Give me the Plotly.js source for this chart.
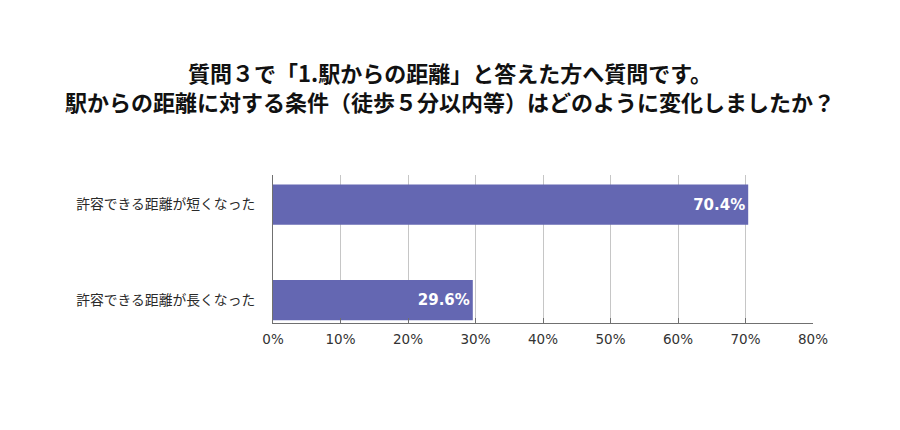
<!DOCTYPE html>
<html>
<head>
<meta charset="utf-8">
<script src="https://cdn.plot.ly/plotly-3.0.1.min.js"></script>
<style>
  html, body { margin: 0; padding: 0; background: #fff; }
  #chart { width: 900px; height: 430px; }
</style>
</head>
<body>
<div id="chart"></div>
<script>
// Answers and their share (%), top to bottom
const categories = ["許容できる距離が短くなった", "許容できる距離が長くなった"];
const shares = [70.4, 29.6];
const xTicks = [0, 10, 20, 30, 40, 50, 60, 70, 80];
const titleLines = [
  "質問３で「1.駅からの距離」と答えた方へ質問です。",
  "駅からの距離に対する条件（徒歩５分以内等）はどのように変化しましたか？",
];

const FONT = "'Noto Sans CJK JP', 'Noto Sans', sans-serif";
const NUM_FONT = "'DejaVu Sans', sans-serif";
const BAR_COLOR = "#6467b2";
const GRID_COLOR = "#c6c6c6";
const AXIS_COLOR = "#707070";

// two title lines as separate annotations, so the line gap matches
const titleAnnotations = titleLines.map((t, i) => ({
  text: t,
  xref: "paper", yref: "paper",
  x: (450 - 273) / 540, xanchor: "center",
  y: 1 + (175 - (71.5 + i * 29.5)) / 148, yanchor: "middle",
  showarrow: false,
  borderpad: 0,
  font: { family: FONT, size: 22, color: "#111111", weight: "bold" },
}));

Plotly.newPlot(
  "chart",
  [
    {
      type: "bar", orientation: "h",
      x: shares, y: categories,
      width: 0.42,
      marker: { color: BAR_COLOR },
      text: shares.map((v) => v.toFixed(1) + "%"),
      textposition: "inside",
      insidetextanchor: "end",
      textfont: { family: NUM_FONT, size: 15, color: "#ffffff", weight: "bold" },
      hoverinfo: "none",
    },
  ],
  {
    width: 900, height: 430,
    paper_bgcolor: "#ffffff",
    plot_bgcolor: "#ffffff",
    font: { family: FONT, size: 13, color: "#333333" },
    margin: { t: 175, r: 87, b: 107, l: 273 },
    showlegend: false,
    annotations: titleAnnotations,
    xaxis: {
      range: [0, 80],
      tickvals: xTicks,
      ticktext: xTicks.map((v) => v + "%"),
      showgrid: true,
      gridcolor: GRID_COLOR,
      gridwidth: 1,
      zeroline: false,
      showline: true,
      linecolor: AXIS_COLOR,
      linewidth: 1,
      ticks: "inside",
      ticklen: 5,
      tickcolor: AXIS_COLOR,
      ticklabelstandoff: 4,
      tickfont: { family: NUM_FONT, size: 13.5, color: "#333333" },
      fixedrange: true,
    },
    yaxis: {
      type: "category",
      categoryorder: "array",
      categoryarray: categories,
      range: [1.24, -0.31],
      showgrid: false,
      zeroline: false,
      showline: true,
      linecolor: AXIS_COLOR,
      linewidth: 1,
      ticks: "",
      ticklabelstandoff: 14,
      tickfont: { family: FONT, size: 13.8, color: "#2a2a2a" },
      fixedrange: true,
    },
  },
  { displayModeBar: false, staticPlot: true }
);
</script>
</body>
</html>
